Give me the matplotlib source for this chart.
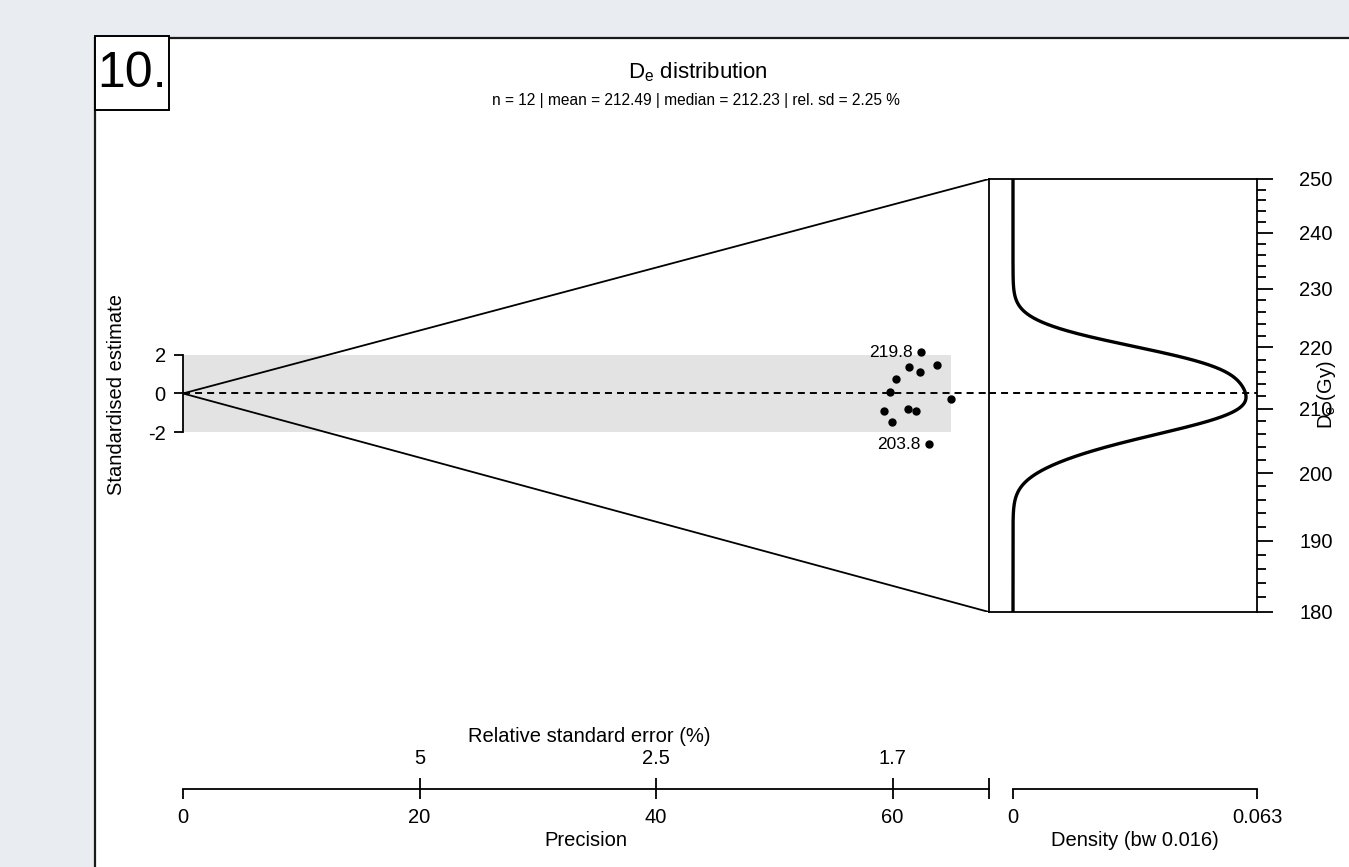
import numpy as np
import matplotlib
matplotlib.use("Agg")
from matplotlib import pyplot as plt
from matplotlib.patches import Rectangle
from matplotlib.ticker import NullFormatter

plt.rcParams['font.family'] = ['Liberation Sans', 'DejaVu Sans']
plt.rcParams['axes.unicode_minus'] = False

# equivalent doses and their standard errors (Gy)
de = [219.8, 217.2, 217.4, 216.2, 215.2, 212.8, 211.6, 209.3, 209.7, 209.4, 207.3, 203.8]
de_err = [3.52, 3.54, 3.41, 3.47, 3.57, 3.56, 3.26, 3.53, 3.42, 3.38, 3.46, 3.23]

de_lim = [180, 250]
de_ticks = [180, 190, 200, 210, 220, 230, 240, 250]
de_minor = list(range(180, 251, 2))
z_ticks = [-2, 0, 2]
prec_ticks = [0, 20, 40, 60]
rse_ticks = [20, 40, 60]
bw = 0.016
panel_no = "10."
title = "D$_\\mathregular{e}$ distribution"
stats_line = "n = 12 | mean = 212.49 | median = 212.23 | rel. sd = 2.25 %"

# abanico coordinates (log scale)
de = np.array(de)
de_err = np.array(de_err)
log_de = np.log(de)
log_se = de_err / de
prec = 1 / log_se
w = prec ** 2
central = np.sum(w * log_de) / np.sum(w)
z = (log_de - central) / log_se
x_end = 1.05 * prec.max()
z_top = (np.log(de_lim[1]) - central) * x_end
z_bot = (np.log(de_lim[0]) - central) * x_end

# kernel density of log De, expressed per Gy
grid = np.geomspace(de_lim[0], de_lim[1], 600)
u = (np.log(grid)[:, None] - log_de[None, :]) / bw
kde = np.exp(-0.5 * u ** 2).sum(axis=1) / (len(de) * bw * np.sqrt(2 * np.pi)) / grid
kde_max = kde.max()
d_right = kde_max / 0.955
d_left = -d_right * 24 / 244

LW = 1.3
W, H = 1349, 867
def box(l, t, r, b):
    return [l / W, 1 - b / H, (r - l) / W, (b - t) / H]

fig = plt.figure(figsize=(W / 100, H / 100), dpi=100)
fig.patch.set_facecolor('#e9ecf1')
fig.patches.append(Rectangle((95 / W, -0.1), 1.0, 1.1 - 38 / H, transform=fig.transFigure,
                             fc='white', ec='#1a1a1a', lw=1.6, zorder=-10))
fig.patches.append(Rectangle((95 / W, 1 - 110 / H), 74 / W, 74 / H, transform=fig.transFigure,
                             fc='white', ec='black', lw=1.4, zorder=-5))
fig.text(132 / W, 1 - 74 / H, panel_no, fontsize=36, ha='center', va='center')
fig.text(698 / W, 1 - 72 / H, title, fontsize=16, ha='center', va='center')
fig.text(696 / W, 1 - 101 / H, stats_line, fontsize=11.2, ha='center', va='center')

# radial plot part
ax = fig.add_axes(box(183, 179, 989, 612))
ax.patch.set_alpha(0)
ax.set_xlim(0, x_end)
ax.set_ylim(z_bot, z_top)
for s in ['top', 'right', 'bottom']:
    ax.spines[s].set_visible(False)
ax.spines['left'].set_bounds(-2, 2)
ax.spines['left'].set_linewidth(LW)
ax.set_xticks([])
ax.set_yticks(z_ticks, labels=[str(t) for t in z_ticks])
ax.tick_params(axis='y', length=6.5, width=LW, pad=6, labelsize=14.5)
ax.fill_between([0, prec.max()], -2, 2, color='#e3e3e3', lw=0, zorder=0)
ax.plot([0, x_end], [0, z_top], color='black', lw=LW)
ax.plot([0, x_end], [0, z_bot], color='black', lw=LW)
ax.plot([0, x_end], [0, 0], color='black', lw=1.4, dashes=(3.6, 2.6))
ax.plot(prec, z, 'o', color='black', ms=5, clip_on=False)
for i in [np.argmax(de), np.argmin(de)]:
    ax.annotate("%.1f" % de[i], xy=(prec[i], z[i]), xytext=(-6, 0), textcoords='offset points',
                ha='right', va='center', fontsize=12.5)
fig.text(117 / W, 1 - 395 / H, "Standardised estimate", rotation=90, fontsize=14.5,
         ha='center', va='center')

# density part
axk = fig.add_axes(box(989, 179, 1257, 612))
axk.patch.set_alpha(0)
axk.set_yscale('log')
axk.set_ylim(de_lim)
axk.set_xlim(d_left, d_right)
for s in axk.spines.values():
    s.set_linewidth(LW)
axk.set_xticks([])
axk.set_yticks(de_ticks, labels=[str(t) for t in de_ticks])
axk.set_yticks(de_minor, minor=True)
axk.yaxis.set_minor_formatter(NullFormatter())
axk.tick_params(axis='y', which='both', left=False, right=True, labelleft=False, labelright=True,
                width=LW, labelsize=14.5)
axk.tick_params(axis='y', which='major', length=11.5, pad=19)
axk.tick_params(axis='y', which='minor', length=6.5)
axk.plot([d_left, d_right], [np.exp(central)] * 2, color='black', lw=1.4, dashes=(3.6, 2.6))
axk.plot(kde, grid, color='black', lw=2.4)
fig.text(1327 / W, 1 - 395 / H, "D$_\\mathregular{e}$ (Gy)", rotation=90, fontsize=14.5,
         ha='center', va='center')

# precision axis with relative standard error above it
axp = fig.add_axes(box(183, 788, 989, 789))
axp.patch.set_alpha(0)
axp.set_xlim(0, x_end)
for s in ['top', 'right', 'left']:
    axp.spines[s].set_visible(False)
axp.spines['bottom'].set_bounds(0, x_end)
axp.spines['bottom'].set_linewidth(LW)
axp.set_yticks([])
axp.xaxis.remove_overlapping_locs = False
axp.set_xticks(prec_ticks + [x_end], labels=[str(t) for t in prec_ticks] + [''])
axp.set_xticks(rse_ticks + [x_end], minor=True)
axp.tick_params(axis='x', which='major', direction='out', length=7.2, width=LW, pad=6.5, labelsize=14.5)
axp.tick_params(axis='x', which='minor', direction='in', length=7.9, width=LW)
for p in rse_ticks:
    axp.annotate("%.2g" % (100.0 / p), xy=(p, 0), xycoords=('data', 'axes fraction'),
                 xytext=(0, 22), textcoords='offset points', ha='center', va='center', fontsize=14.5)
fig.text(589 / W, 1 - 736 / H, "Relative standard error (%)", fontsize=14.5, ha='center', va='center')
fig.text(586 / W, 1 - 841 / H, "Precision", fontsize=14.5, ha='center', va='center')

# density axis
axd = fig.add_axes(box(989, 788, 1257, 789))
axd.patch.set_alpha(0)
axd.set_xlim(d_left, d_right)
for s in ['top', 'right', 'left']:
    axd.spines[s].set_visible(False)
axd.spines['bottom'].set_bounds(0, d_right)
axd.spines['bottom'].set_linewidth(LW)
axd.set_yticks([])
axd.set_xticks([0, d_right], labels=['0', "%.3f" % kde_max])
axd.tick_params(axis='x', direction='out', length=7.2, width=LW, pad=6.5, labelsize=14.5)
fig.text(1135 / W, 1 - 841 / H, "Density (bw %.3f)" % bw, fontsize=14.5, ha='center', va='center')

fig.savefig("out.png", dpi=100, facecolor=fig.get_facecolor())
